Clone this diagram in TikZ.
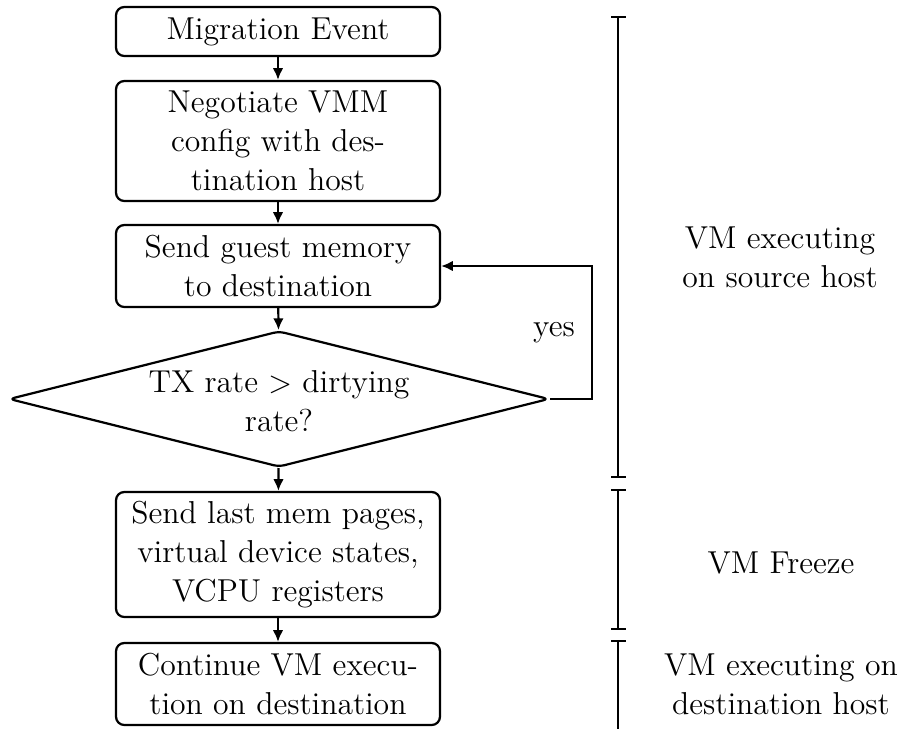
\documentclass[tikz,border=0pt]{standalone}
\usetikzlibrary{shapes.geometric,arrows.meta}
% one drawing unit = one pixel of the final 900 x 729 image
\newcommand{\unitpx}{0.3597pt}
\begin{document}
\begin{tikzpicture}[x=\unitpx,y=-\unitpx,
  every node/.style={font=\fontsize{11.4}{14}\selectfont},
  stepbox/.style={draw,line width=0.8pt,rounded corners=3pt,align=center,
    minimum width={324*\unitpx},inner sep=0pt},
  decision/.style={draw,diamond,line width=0.8pt,rounded corners=2pt,
    minimum width={540*\unitpx},minimum height={136*\unitpx},inner sep=0pt},
  flow/.style={line width=0.8pt,-{Latex[length=4.2pt,width=3.8pt]}},
  phase/.style={line width=0.45pt},
  phaselabel/.style={align=center}]
  \useasboundingbox (0,0) rectangle (900,729);

  % flowchart boxes
  \node[stepbox,minimum height={49*\unitpx}] (event) at (278,31.5) {Migration Event};
  \node[stepbox,minimum height={120*\unitpx}] (negotiate) at (278,141)
    {Negotiate VMM\\config with des-\\tination host};
  \node[stepbox,minimum height={82*\unitpx}] (sendmem) at (278,266)
    {Send guest memory\\to destination};
  \node[decision] (check) at (279,399) {};
  \node[align=center] (checktext) at (279,401) {TX rate $>$ dirtying\\rate?};
  \node[stepbox,minimum height={125*\unitpx}] (sendlast) at (278,554.5)
    {Send last mem pages,\\virtual device states,\\VCPU registers};
  \node[stepbox,minimum height={82*\unitpx}] (resume) at (278,684)
    {Continue VM execu-\\tion on destination};

  % connectors
  \draw[flow] (event) -- (negotiate);
  \draw[flow] (negotiate) -- (sendmem);
  \draw[flow] (sendmem) -- (check);
  \draw[flow] (check) -- (sendlast);
  \draw[flow] (sendlast) -- (resume);
  \coordinate (loop) at (592,399);
  \draw[flow] (check.east) -- (loop) |- (sendmem.east);
  \node (yes) at (554,333) {yes};

  % phase brackets
  \draw[phase] (618,17) -- (618,477);
  \draw[phase] (611,17) -- (626,17);
  \draw[phase] (611,477) -- (626,477);
  \draw[phase] (618,490) -- (618,629);
  \draw[phase] (611,490) -- (626,490);
  \draw[phase] (611,629) -- (626,629);
  \draw[phase] (618,641) -- (618,729);
  \draw[phase] (611,641) -- (626,641);

  % phase labels
  \node[phaselabel] (srcphase) at (780,257) {VM executing\\on source host};
  \node[phaselabel] (freeze) at (781,563) {VM Freeze};
  \node[phaselabel] (dstphase) at (781,684) {VM executing on\\destination host};
\end{tikzpicture}
\end{document}
